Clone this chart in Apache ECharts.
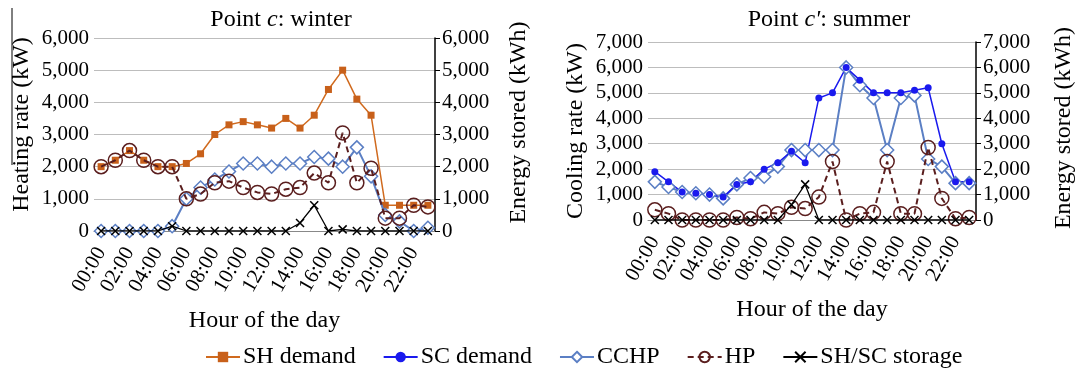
<!DOCTYPE html>
<html>
<head>
<meta charset="utf-8">
<script src="https://cdn.jsdelivr.net/npm/echarts@6/dist/echarts.min.js"></script>
<style>
  html, body { margin: 0; padding: 0; background: #fff; }
  #main { width: 1077px; height: 369px; }
</style>
</head>
<body>
<div id="main"></div>
<script>
var hours = ['00:00', '01:00', '02:00', '03:00', '04:00', '05:00', '06:00', '07:00',
  '08:00', '09:00', '10:00', '11:00', '12:00', '13:00', '14:00', '15:00',
  '16:00', '17:00', '18:00', '19:00', '20:00', '21:00', '22:00', '23:00']

// winter, point c
var winterSH = [2000, 2200, 2500, 2200, 2000, 2000, 2100, 2400, 3000, 3300, 3400, 3300,
  3200, 3500, 3200, 3600, 4400, 5000, 4100, 3600, 800, 800, 800, 800]
var winterCCHP = [0, 0, 0, 0, 0, 150, 1000, 1350, 1600, 1850, 2100, 2100,
  2000, 2100, 2100, 2300, 2250, 2000, 2600, 1700, 500, 300, 0, 100]
var winterHP = [2000, 2200, 2500, 2200, 2000, 2000, 1000, 1150, 1500, 1550, 1350, 1200,
  1150, 1300, 1350, 1800, 1500, 3050, 1500, 1950, 400, 400, 800, 750]
var winterStore = [0, 0, 0, 0, 0, 150, 0, 0, 0, 0, 0, 0,
  0, 0, 250, 800, 0, 50, 0, 0, 0, 0, 0, 0]

// summer, point c'
var summerSC = [1900, 1500, 1100, 1050, 1000, 900, 1400, 1500, 2000, 2250, 2700, 2250,
  4800, 5000, 6000, 5500, 5000, 5000, 5000, 5100, 5200, 3000, 1500, 1500]
var summerCCHP = [1500, 1300, 1100, 1050, 1000, 850, 1400, 1650, 1700, 2100, 2750, 2750,
  2750, 2750, 6000, 5300, 4800, 2750, 4800, 4900, 2400, 2100, 1450, 1450]
var summerHP = [400, 250, 0, 0, 0, 0, 100, 50, 300, 250, 500, 450,
  900, 2300, 0, 250, 300, 2300, 250, 250, 2850, 850, 50, 100]
var summerStore = [0, 0, 0, 0, 0, 0, 0, 0, 0, 0, 600, 1400,
  0, 0, 0, 0, 0, 0, 0, 0, 0, 0, 0, 0]

var legendNames = ['SH demand', 'SC demand', 'CCHP', 'HP', 'SH/SC storage']

var FONT = 'Liberation Serif'
var crossPath = 'path://M0,0L10,10M10,0L0,10'

function fmt(v) {
  return v.toLocaleString('en-US')
}

function xAxis(grid) {
  return {
    type: 'category',
    gridIndex: grid,
    data: hours,
    boundaryGap: true,
    name: 'Hour of the day',
    nameLocation: 'middle',
    nameGap: 78,
    nameTextStyle: { fontFamily: FONT, fontSize: 24, color: '#000' },
    axisLine: { lineStyle: { color: '#888', width: 1 } },
    axisTick: { show: false },
    axisLabel: { interval: 1, rotate: 60, margin: 18, fontFamily: FONT, fontSize: 21, color: '#000' }
  }
}

function yLeft(grid, max, name, gap, pad) {
  return {
    type: 'value', gridIndex: grid, min: 0, max: max, interval: 1000,
    name: name, nameLocation: 'middle', nameGap: gap,
    nameTextStyle: { fontFamily: FONT, fontSize: 24, color: '#000', padding: [0, 0, 0, pad] },
    axisLine: { show: false }, axisTick: { show: false },
    axisLabel: { formatter: fmt, fontFamily: FONT, fontSize: 21, color: '#000', margin: 5 },
    splitLine: { lineStyle: { color: '#bdbdbd', width: 1 } }
  }
}

function yRight(grid, max, gap, pad) {
  return {
    type: 'value', gridIndex: grid, position: 'right', min: 0, max: max, interval: 1000,
    name: 'Energy stored (kWh)', nameLocation: 'middle', nameGap: gap,
    nameTextStyle: { fontFamily: FONT, fontSize: 24, color: '#000', padding: [0, 0, 0, pad] },
    axisLine: { show: true, lineStyle: { color: '#000', width: 1.5 } },
    axisTick: { show: true, inside: false, length: 5, lineStyle: { color: '#000' } },
    axisLabel: { formatter: fmt, fontFamily: FONT, fontSize: 21, color: '#000', margin: 7 },
    splitLine: { show: false }
  }
}

function cchp(x, y, data) {
  return {
    name: 'CCHP', type: 'line', xAxisIndex: x, yAxisIndex: y, data: data,
    symbol: 'diamond', symbolSize: 13, showAllSymbol: true,
    lineStyle: { color: '#5b7fc4', width: 2 },
    itemStyle: { color: '#fff', borderColor: '#5b7fc4', borderWidth: 1.5 },
    z: 2
  }
}

function hp(x, y, data) {
  return {
    name: 'HP', type: 'line', xAxisIndex: x, yAxisIndex: y, data: data,
    symbol: 'circle', symbolSize: 14, showAllSymbol: true,
    lineStyle: { color: '#5a1e1e', width: 2, type: [6, 4] },
    itemStyle: { color: 'rgba(0,0,0,0)', borderColor: '#5a1e1e', borderWidth: 1.5 },
    z: 3
  }
}

function store(x, y, data) {
  return {
    name: 'SH/SC storage', type: 'line', xAxisIndex: x, yAxisIndex: y, data: data,
    symbol: crossPath, symbolSize: 8, showAllSymbol: true,
    lineStyle: { color: '#000', width: 1.3 },
    itemStyle: { color: 'rgba(0,0,0,0)', borderColor: '#000', borderWidth: 1.5 },
    z: 4
  }
}

function titleStyle() {
  return { rich: {
    n: { fontFamily: FONT, fontSize: 24, fontWeight: 'normal', color: '#000' },
    i: { fontFamily: FONT, fontSize: 24, fontWeight: 'normal', fontStyle: 'italic', color: '#000' }
  } }
}

var chart = echarts.init(document.getElementById('main'))
chart.setOption({
  animation: false,
  title: [
    { text: '{n|Point }{i|c}{n|: winter}', left: 276, top: 3, textAlign: 'center', textStyle: titleStyle() },
    { text: "{n|Point }{i|c'}{n|: summer}", left: 824, top: 3, textAlign: 'center', textStyle: titleStyle() }
  ],
  legend: {
    data: legendNames,
    left: 200,
    top: 340,
    itemWidth: 34,
    itemHeight: 13,
    itemGap: 27,
    textStyle: { fontFamily: FONT, fontSize: 24, color: '#000', padding: [0, 0, 0, -2] }
  },
  grid: [
    { left: 94, top: 38, width: 341, height: 193 },
    { left: 648, top: 42, width: 331, height: 178 }
  ],
  xAxis: [xAxis(0), xAxis(1)],
  yAxis: [
    yLeft(0, 6000, 'Heating rate (kW)', 60, 20),
    yRight(0, 6000, 72, 24),
    yLeft(1, 7000, 'Cooling rate (kW)', 60, 0),
    yRight(1, 7000, 76, 6)
  ],
  graphic: [
    { type: 'line', shape: { x1: 12, y1: 8, x2: 12, y2: 165 }, style: { stroke: '#000', lineWidth: 1 } }
  ],
  series: [
    {
      name: 'SH demand', type: 'line', xAxisIndex: 0, yAxisIndex: 0, data: winterSH,
      symbol: 'rect', symbolSize: 7, showAllSymbol: true,
      lineStyle: { color: '#d06a1e', width: 1.5 },
      itemStyle: { color: '#c8601a' },
      z: 1
    },
    cchp(0, 0, winterCCHP),
    hp(0, 0, winterHP),
    store(0, 1, winterStore),
    cchp(1, 2, summerCCHP),
    {
      name: 'SC demand', type: 'line', xAxisIndex: 1, yAxisIndex: 2, data: summerSC,
      symbol: 'circle', symbolSize: 7, showAllSymbol: true,
      lineStyle: { color: '#1a1aee', width: 1.5 },
      itemStyle: { color: '#1a1aee' },
      z: 2
    },
    hp(1, 2, summerHP),
    store(1, 3, summerStore)
  ]
})
</script>
</body>
</html>
